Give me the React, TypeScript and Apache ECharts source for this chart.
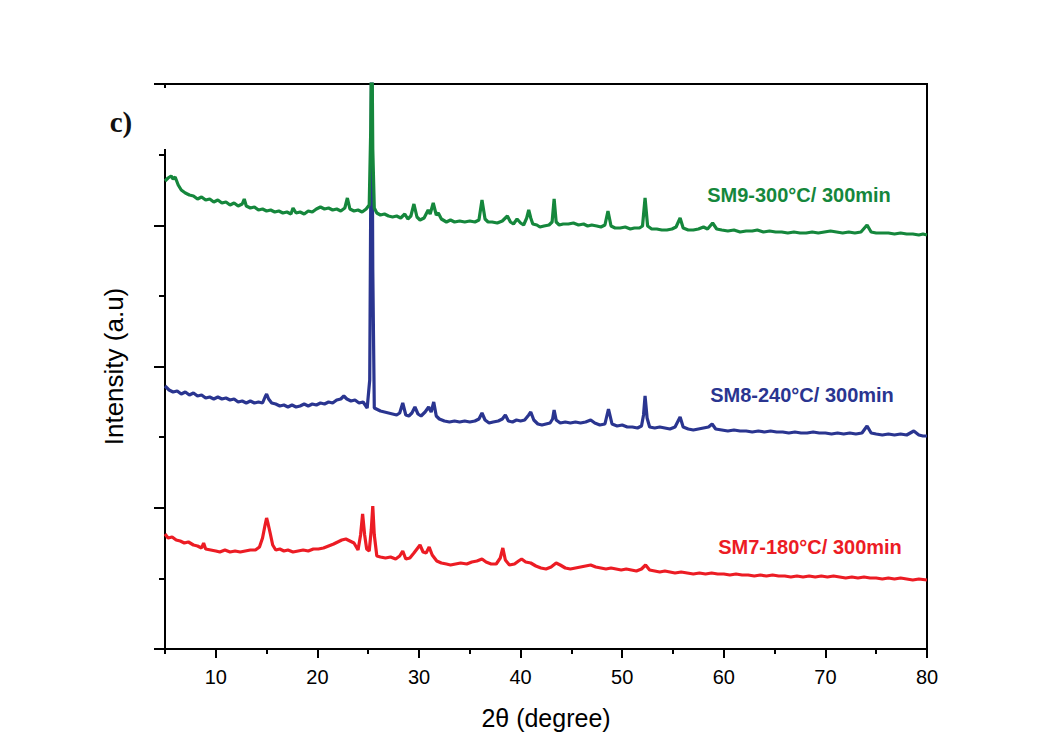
import React, { useEffect, useRef } from "react";
import * as echarts from "echarts";

// 2θ (degree), intensity (a.u.)
const sm9Points: [number, number][] = [
  [5.0, 468], [5.3, 471], [5.6, 473], [5.8, 470], [6.0, 472], [6.3, 464], [6.6, 459], [7.0, 456], [7.4, 454], [7.8, 453],
  [8.2, 450], [8.6, 452], [9.0, 449], [9.4, 450], [9.8, 447], [10.2, 449], [10.6, 446], [11.0, 447], [11.4, 444], [11.8, 446],
  [12.2, 443], [12.6, 445], [12.8, 450], [13.0, 443], [13.4, 441], [13.8, 442], [14.2, 439], [14.6, 440], [15.0, 438], [15.4, 439],
  [15.8, 437], [16.2, 438], [16.6, 436], [17.0, 437], [17.4, 435], [17.6, 441], [17.9, 436], [18.3, 437], [18.7, 435], [19.1, 438],
  [19.5, 437], [19.9, 440], [20.3, 442], [20.7, 440], [21.1, 441], [21.5, 439], [21.9, 440], [22.3, 438], [22.7, 441], [22.95, 451],
  [23.2, 440], [23.6, 438], [24.0, 439], [24.4, 437], [24.8, 440], [25.1, 444], [25.25, 520], [25.35, 640], [25.45, 500], [25.6, 441],
  [25.85, 436], [26.2, 434], [26.6, 435], [27.0, 433], [27.4, 432], [27.8, 433], [28.2, 431], [28.6, 435], [28.9, 430], [29.2, 433],
  [29.5, 445], [29.8, 432], [30.1, 429], [30.5, 431], [30.9, 439], [31.1, 435], [31.4, 446], [31.7, 434], [31.9, 436], [32.2, 430],
  [32.7, 427], [33.1, 429], [33.5, 427], [34.0, 428], [34.5, 427], [35.0, 428], [35.5, 427], [35.9, 429], [36.2, 449], [36.5, 430],
  [36.8, 427], [37.2, 427], [37.7, 426], [38.2, 428], [38.7, 433], [39.0, 427], [39.3, 425], [39.65, 430], [40.0, 426], [40.3, 424],
  [40.6, 431], [40.8, 439], [41.0, 431], [41.2, 425], [41.6, 424], [41.9, 422], [42.3, 423], [42.8, 424], [43.1, 427], [43.3, 450],
  [43.5, 427], [43.8, 424], [44.2, 425], [44.7, 425], [45.2, 426], [45.7, 424], [46.2, 425], [46.6, 423], [47.0, 424], [47.5, 423],
  [47.9, 422], [48.3, 424], [48.6, 438], [48.9, 423], [49.3, 421], [49.8, 421], [50.3, 422], [50.8, 420], [51.2, 421], [51.7, 421],
  [52.0, 423], [52.25, 451], [52.5, 423], [52.9, 420], [53.4, 420], [53.9, 419], [54.4, 419], [54.9, 420], [55.3, 422], [55.7, 431],
  [56.0, 421], [56.5, 419], [57.0, 419], [57.5, 420], [58.0, 422], [58.4, 420], [58.9, 426], [59.3, 420], [59.8, 419], [60.4, 418],
  [61.0, 419], [61.6, 417], [62.2, 418], [62.8, 418], [63.3, 419], [63.9, 417], [64.5, 418], [65.1, 417], [65.7, 417], [66.3, 416],
  [66.9, 417], [67.5, 416], [68.1, 416], [68.7, 417], [69.3, 416], [69.9, 417], [70.5, 418], [71.1, 417], [71.7, 416], [72.3, 417],
  [72.9, 416], [73.5, 417], [74.1, 424], [74.5, 417], [75.0, 416], [75.6, 416], [76.2, 416], [76.8, 415], [77.4, 416], [78.0, 415],
  [78.6, 415], [79.2, 414], [79.6, 415], [80.0, 414],
];

const sm8Points: [number, number][] = [
  [5.0, 263], [5.4, 259], [5.8, 257], [6.2, 258], [6.6, 255], [7.0, 257], [7.4, 254], [7.8, 256], [8.2, 253], [8.6, 254],
  [9.0, 251], [9.4, 252], [9.8, 250], [10.2, 252], [10.6, 250], [11.0, 251], [11.4, 249], [11.8, 250], [12.2, 247], [12.6, 248],
  [13.0, 246], [13.4, 248], [13.8, 246], [14.2, 247], [14.6, 246], [14.85, 252], [15.0, 255], [15.2, 250], [15.5, 246], [15.9, 245],
  [16.3, 243], [16.7, 244], [17.1, 242], [17.5, 244], [17.9, 242], [18.3, 243], [18.7, 245], [19.1, 243], [19.5, 245], [19.9, 244],
  [20.3, 246], [20.7, 245], [21.1, 247], [21.5, 246], [21.9, 249], [22.3, 250], [22.6, 253], [22.9, 250], [23.3, 248], [23.7, 249],
  [24.1, 246], [24.5, 247], [24.9, 241], [25.15, 269], [25.25, 450], [25.35, 620], [25.45, 380], [25.6, 241], [25.8, 240], [26.2, 238],
  [26.6, 237], [27.0, 236], [27.4, 235], [27.8, 234], [28.1, 236], [28.4, 246], [28.7, 234], [29.0, 233], [29.3, 236], [29.6, 242],
  [29.9, 235], [30.2, 233], [30.6, 237], [30.95, 242], [31.2, 237], [31.45, 247], [31.7, 233], [32.0, 230], [32.5, 228], [33.0, 227],
  [33.5, 228], [34.0, 227], [34.5, 228], [35.0, 227], [35.5, 228], [35.9, 230], [36.2, 236], [36.5, 229], [36.9, 226], [37.3, 227],
  [37.8, 228], [38.2, 230], [38.5, 234], [38.8, 228], [39.2, 227], [39.6, 229], [40.0, 228], [40.4, 229], [40.8, 234], [41.0, 237],
  [41.3, 229], [41.7, 225], [42.1, 224], [42.5, 225], [42.9, 226], [43.15, 230], [43.3, 239], [43.5, 229], [43.9, 226], [44.4, 227],
  [44.9, 226], [45.4, 227], [45.9, 226], [46.4, 227], [46.9, 229], [47.3, 226], [47.8, 224], [48.3, 225], [48.65, 240], [49.0, 225],
  [49.5, 223], [50.0, 224], [50.5, 222], [51.0, 222], [51.5, 221], [51.9, 223], [52.1, 234], [52.25, 253], [52.45, 231], [52.7, 222],
  [53.2, 221], [53.7, 222], [54.2, 221], [54.7, 220], [55.2, 222], [55.7, 232], [56.0, 222], [56.5, 220], [57.0, 219], [57.5, 220],
  [58.0, 221], [58.5, 222], [58.85, 225], [59.2, 220], [59.8, 219], [60.4, 218], [61.0, 219], [61.6, 218], [62.2, 218], [62.8, 217],
  [63.4, 218], [64.0, 217], [64.6, 218], [65.2, 217], [65.8, 217], [66.4, 216], [67.0, 217], [67.6, 216], [68.2, 216], [68.8, 217],
  [69.4, 216], [70.0, 216], [70.6, 215], [71.2, 216], [71.8, 215], [72.4, 216], [73.0, 215], [73.6, 216], [74.1, 223], [74.5, 216],
  [75.0, 215], [75.6, 214], [76.2, 215], [76.8, 214], [77.4, 215], [78.0, 214], [78.7, 218], [79.2, 214], [79.6, 213], [80.0, 213],
];

const sm7Points: [number, number][] = [
  [5.0, 115], [5.3, 111], [5.7, 112], [6.1, 109], [6.5, 108], [6.9, 106], [7.3, 107], [7.8, 104], [8.2, 103], [8.6, 101],
  [8.8, 106], [9.0, 100], [9.5, 99], [10.0, 98], [10.4, 97], [10.9, 99], [11.4, 97], [11.9, 98], [12.4, 97], [12.9, 98],
  [13.4, 99], [13.9, 99], [14.3, 102], [14.6, 111], [14.85, 124], [15.0, 131], [15.15, 125], [15.35, 116], [15.6, 104], [15.9, 99],
  [16.3, 100], [16.7, 98], [17.1, 99], [17.6, 97], [18.1, 98], [18.6, 99], [19.1, 98], [19.6, 100], [20.1, 100], [20.6, 101],
  [21.1, 103], [21.6, 105], [22.0, 107], [22.4, 109], [22.8, 110], [23.2, 108], [23.6, 106], [24.0, 99], [24.25, 114], [24.45, 135],
  [24.65, 114], [24.85, 100], [25.1, 98], [25.3, 119], [25.45, 143], [25.6, 114], [25.85, 93], [26.2, 92], [26.7, 91], [27.2, 92],
  [27.7, 90], [28.1, 93], [28.4, 98], [28.7, 90], [29.1, 91], [29.5, 96], [29.8, 100], [30.1, 104], [30.4, 97], [30.7, 96],
  [31.0, 102], [31.3, 94], [31.75, 88], [32.2, 86], [32.7, 85], [33.1, 84], [33.6, 85], [34.1, 86], [34.7, 85], [35.2, 87],
  [35.7, 88], [36.2, 90], [36.6, 87], [37.1, 85], [37.6, 85], [38.0, 91], [38.25, 101], [38.5, 89], [38.9, 84], [39.4, 85],
  [39.8, 88], [40.1, 90], [40.5, 87], [41.0, 86], [41.5, 83], [42.0, 81], [42.5, 80], [43.0, 82], [43.5, 86], [43.9, 84],
  [44.4, 81], [44.9, 80], [45.4, 81], [45.9, 82], [46.4, 83], [46.9, 84], [47.4, 82], [47.9, 81], [48.4, 80], [48.9, 81],
  [49.4, 80], [49.9, 79], [50.4, 80], [50.9, 79], [51.4, 78], [51.9, 80], [52.3, 84], [52.7, 79], [53.2, 78], [53.7, 77],
  [54.2, 78], [54.7, 77], [55.2, 76], [55.8, 77], [56.4, 76], [57.0, 75], [57.6, 76], [58.2, 75], [58.8, 76], [59.4, 75],
  [60.0, 75], [60.6, 74], [61.2, 75], [61.8, 74], [62.4, 74], [63.0, 73], [63.6, 74], [64.2, 73], [64.8, 74], [65.4, 73],
  [66.0, 73], [66.6, 72], [67.2, 73], [67.8, 72], [68.4, 73], [69.0, 72], [69.6, 73], [70.2, 72], [70.8, 73], [71.4, 72],
  [72.0, 71], [72.6, 72], [73.2, 71], [73.8, 72], [74.4, 71], [75.0, 71], [75.6, 70], [76.2, 71], [76.8, 70], [77.4, 71],
  [78.0, 70], [78.6, 69], [79.2, 70], [80.0, 69],
];

const seriesNames = ["SM7-180°C/ 300min", "SM8-240°C/ 300min", "SM9-300°C/ 300min"];
const seriesColors = ["#ec1c24", "#2a3590", "#15873c"];
const xMajorTicks = [10, 20, 30, 40, 50, 60, 70, 80];
const xMinorTicks = [5, 15, 25, 35, 45, 55, 65, 75];
const yMax = 565;
const yMajorTicks = [0, 141.25, 282.5, 423.75, 565];
const yMinorTicks = [70.625, 211.875, 353.125, 494.375];

const FONT = 'Arial, "Liberation Sans", sans-serif';

export default function App() {
  const ref = useRef<HTMLDivElement>(null);
  useEffect(() => {
    if (!ref.current) return;
    const chart = echarts.init(ref.current, undefined, { renderer: "svg" });
    const datasets = [sm7Points, sm8Points, sm9Points];
    chart.setOption({
      animation: false,
      backgroundColor: "#ffffff",
      grid: {
        left: 165,
        right: 134,
        top: 84,
        bottom: 100,
        show: true,
        borderColor: "#000",
        borderWidth: 2,
        backgroundColor: "transparent",
      },
      xAxis: [
        {
          type: "value",
          min: 5,
          max: 80,
          name: "2θ (degree)",
          nameLocation: "middle",
          nameGap: 56,
          nameTextStyle: { fontFamily: FONT, fontSize: 25, color: "#000" },
          axisLine: { show: true, lineStyle: { color: "#000", width: 2 } },
          axisTick: { show: true, customValues: xMajorTicks, length: 9, lineStyle: { color: "#000", width: 2 } },
          axisLabel: { show: true, customValues: xMajorTicks, fontFamily: FONT, fontSize: 20, color: "#000", margin: 18 },
          splitLine: { show: false },
        },
        {
          type: "value",
          min: 5,
          max: 80,
          position: "bottom",
          axisLine: { show: false },
          axisTick: { show: true, customValues: xMinorTicks, length: 5, lineStyle: { color: "#000", width: 2 } },
          axisLabel: { show: false },
          splitLine: { show: false },
        },
      ],
      yAxis: [
        {
          type: "value",
          min: 0,
          max: yMax,
          name: "Intensity (a.u)",
          nameLocation: "middle",
          nameGap: 38,
          nameTextStyle: { fontFamily: FONT, fontSize: 26, color: "#000" },
          axisLine: { show: true, lineStyle: { color: "#000", width: 2 } },
          axisTick: { show: true, customValues: yMajorTicks, length: 11, lineStyle: { color: "#000", width: 2 } },
          axisLabel: { show: false },
          splitLine: { show: false },
        },
        {
          type: "value",
          min: 0,
          max: yMax,
          position: "left",
          axisLine: { show: false },
          axisTick: { show: true, customValues: yMinorTicks, length: 6, lineStyle: { color: "#000", width: 2 } },
          axisLabel: { show: false },
          splitLine: { show: false },
        },
      ],
      series: datasets.map((d, i) => ({
        type: "line",
        name: seriesNames[i],
        data: d,
        xAxisIndex: 0,
        yAxisIndex: 0,
        showSymbol: false,
        symbol: "none",
        clip: true,
        lineStyle: { color: seriesColors[i], width: 3.2 },
        z: 2 + i,
      })),
      graphic: [
        { type: "rect", z: 100, shape: { x: 90, y: 88, width: 83, height: 61 }, style: { fill: "#ffffff" } },
        {
          type: "text", z: 101, x: 121, y: 122,
          style: { text: "c)", font: 'bold 29px "Liberation Serif", "Times New Roman", serif', fill: "#111", textAlign: "center", textVerticalAlign: "middle" },
        },
        {
          type: "text", z: 101, x: 799, y: 195,
          style: { text: seriesNames[2], font: `bold 20px ${FONT}`, fill: seriesColors[2], textAlign: "center", textVerticalAlign: "middle" },
        },
        {
          type: "text", z: 101, x: 802, y: 395,
          style: { text: seriesNames[1], font: `bold 20px ${FONT}`, fill: seriesColors[1], textAlign: "center", textVerticalAlign: "middle" },
        },
        {
          type: "text", z: 101, x: 810, y: 547,
          style: { text: seriesNames[0], font: `bold 20px ${FONT}`, fill: seriesColors[0], textAlign: "center", textVerticalAlign: "middle" },
        },
      ],
    });
    return () => chart.dispose();
  }, []);
  return <div ref={ref} style={{ position: "fixed", left: 0, top: 0, width: 1061, height: 749 }} />;
}
